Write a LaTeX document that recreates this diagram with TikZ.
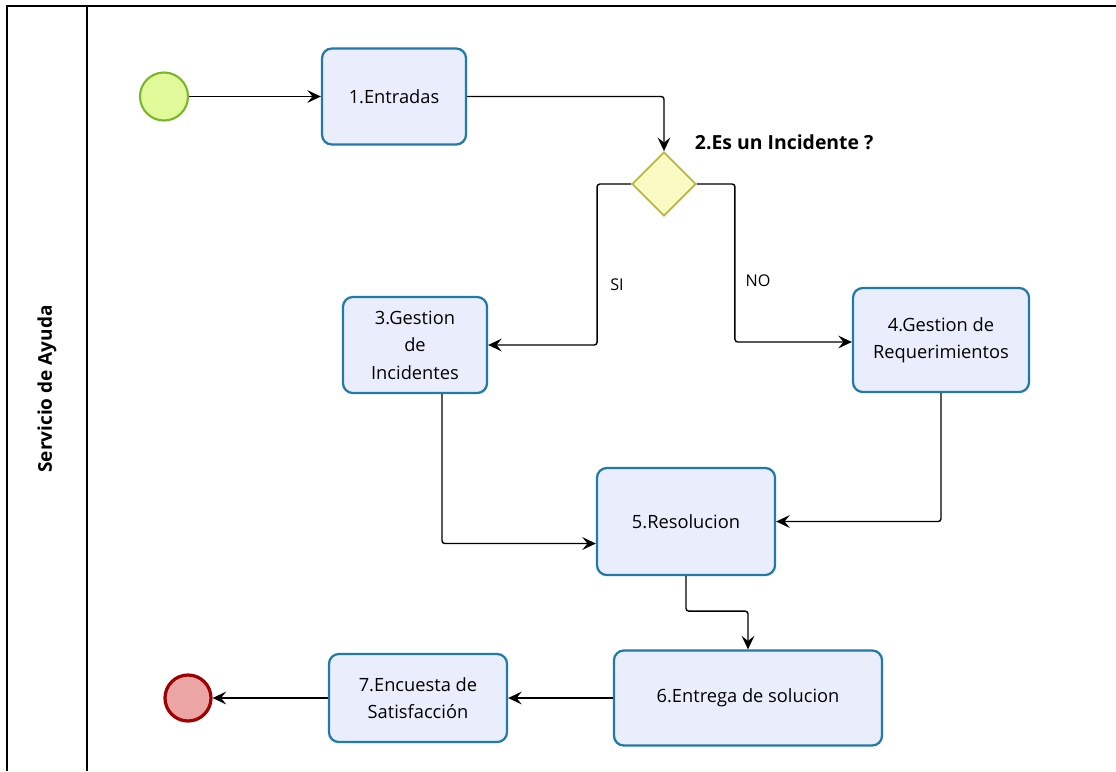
\documentclass[tikz,border=0pt]{standalone}
\usepackage{fontspec}
\setmainfont{Open Sans}
\usepackage{tikz}
\usetikzlibrary{shapes.geometric,arrows.meta}

\definecolor{taskfill}{RGB}{234,238,252}
\definecolor{taskline}{RGB}{33,122,168}
\definecolor{startfill}{RGB}{224,250,154}
\definecolor{startline}{RGB}{122,182,40}
\definecolor{gatefill}{RGB}{250,250,196}
\definecolor{gateline}{RGB}{182,182,64}
\definecolor{endfill}{RGB}{235,165,165}
\definecolor{endline}{RGB}{160,0,0}

\tikzset{
	task/.style={rectangle, draw=taskline, fill=taskfill, line width=1.6pt, rounded corners=7pt, align=center, font=\fontsize{13}{19.5}\selectfont, inner sep=2pt},
	startev/.style={circle, draw=startline, fill=startfill, line width=1.5pt, minimum size=1.2cm, inner sep=0pt},
	endev/.style={circle, draw=endline, fill=endfill, line width=2.3pt, minimum size=1.15cm, inner sep=0pt},
	gate/.style={diamond, draw=gateline, fill=gatefill, line width=1.3pt, minimum width=1.6cm, minimum height=1.6cm, inner sep=0pt},
	flow/.style={->, line width=1pt, rounded corners=2pt},
	lbl/.style={font=\fontsize{11.5}{13}\selectfont}
}

\begin{document}
\begin{tikzpicture}[x=0.025cm, y=-0.025cm, >={Stealth[length=3.4mm,width=3.2mm,inset=1.3mm]}]
			\useasboundingbox (0,0) rectangle (1116,771);
			\draw[line width=1.3pt] (1116,6) -- (7,6) -- (7,771);
			\draw[line width=1.2pt] (87,6) -- (87,771);
			\node[rotate=90, font=\bfseries\fontsize{13.5}{15}\selectfont] (lane) at(47,389){Servicio de Ayuda};
			
			\node[startev] (inicio) at(164,96.5){};
			\node[task, minimum width=3.6cm, minimum height=2.4cm] (entradas) at(394,96.5){1.Entradas};
			\draw[flow] (inicio) -- (entradas);
			
			\node[gate] (incidente) at(664,184){};
			\node[font=\bfseries\fontsize{13.8}{16}\selectfont, anchor=west] (pregunta) at(690,142){2.Es un Incidente ?};
			\draw[flow] (entradas.east) -| (incidente.north);
			
			\node[task, minimum width=3.6cm, minimum height=2.4cm] (gincid) at(415,345){3.Gestion\\de\\Incidentes};
			\node[task, minimum width=4.4cm, minimum height=2.6cm] (greq) at(941,340){4.Gestion de\\Requerimientos};
			\draw[flow] (incidente.west) -- ++(-34,0) |- (gincid.east);
			\draw[flow] (incidente.east) -- ++(38,0) |- ([yshift=-0.05cm]greq.west);
			\node[lbl] (si) at(617,285){SI};
			\node[lbl] (no) at(758,281){NO};
			
			\node[task, minimum width=4.45cm, minimum height=2.675cm] (resol) at(686,521.5){5.Resolucion};
			\draw[flow] ([xshift=0.675cm]gincid.south) |- ([yshift=-0.55cm]resol.west);
			\draw[flow] (greq.south) |- (resol.east);
			
			\node[task, minimum width=6.7cm, minimum height=2.375cm] (entrega) at(748,698){6.Entrega de solucion};
			\draw[flow] (resol.south) -- ++(0,35) -| (entrega.north);
			
			\node[task, minimum width=4.45cm, minimum height=2.2cm] (encuesta) at(418,698){7.Encuesta de\\Satisfacción};
			\draw[flow] (entrega.west) -- (encuesta.east);
			
			\node[endev] (fin) at(188,698){};
			\draw[flow] (encuesta.west) -- (fin.east);
		\end{tikzpicture}
\end{document}
